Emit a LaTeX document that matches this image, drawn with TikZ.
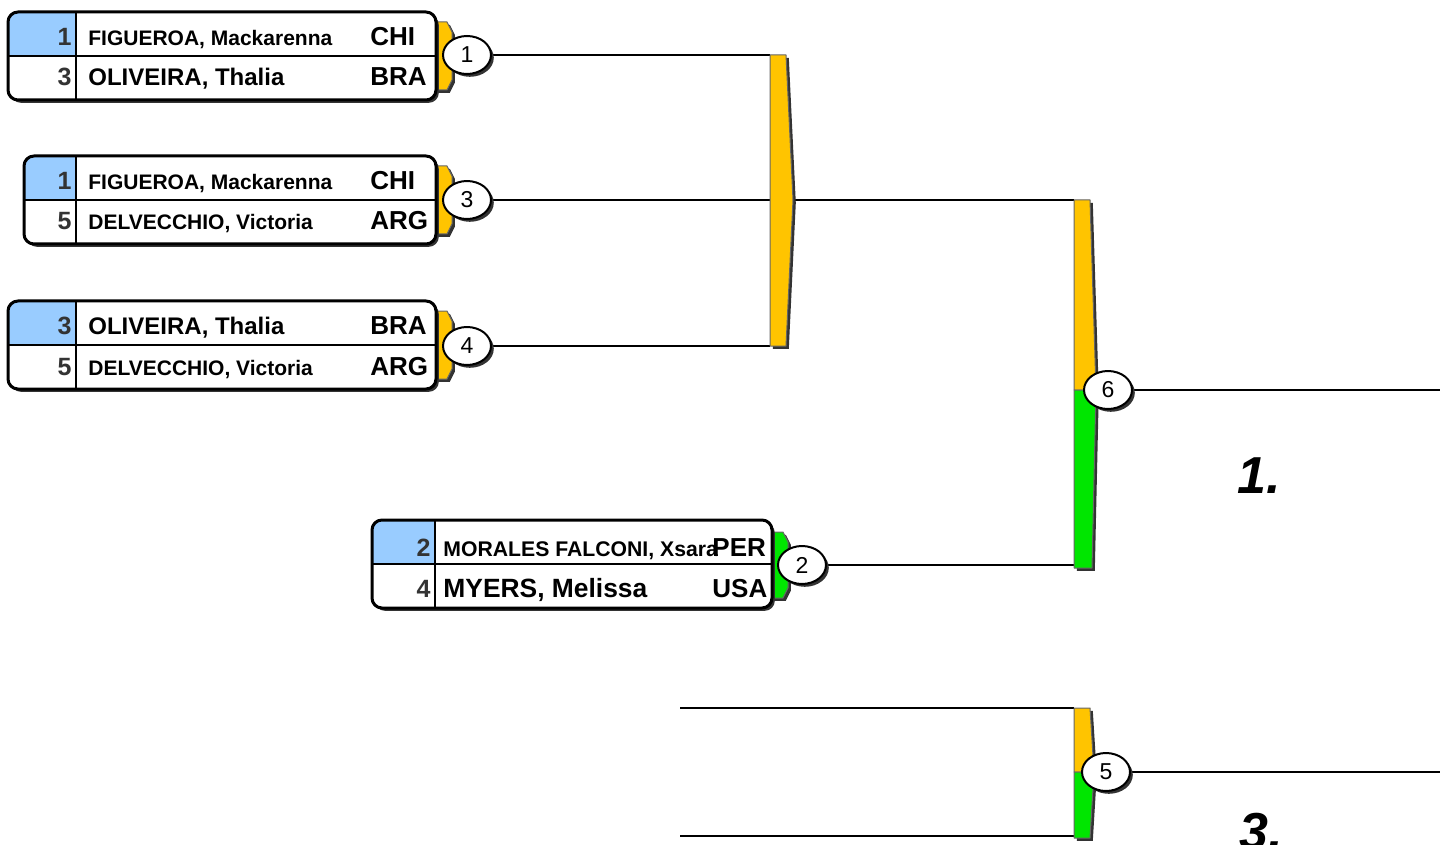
\documentclass[tikz,border=0pt]{standalone}
\usepackage{fontspec}
\setmainfont{Liberation Sans}
\usepackage{xcolor}
\usepackage{tikz}
\usetikzlibrary{calc,positioning,shapes.geometric,backgrounds}
\definecolor{seedblue}{RGB}{153,204,255}
\definecolor{baryel}{RGB}{255,196,0}
\definecolor{bargrn}{RGB}{0,230,0}
\newcommand{\fsz}[1]{\fontsize{#1}{#1}\selectfont}
\tikzset{
  shad/.style={preaction={fill=black!80, transform canvas={xshift=1.4pt, yshift=-1.4pt}}},
  entry/.style={shad, draw, line width=1.5pt, rounded corners=5pt, fill=white,
    minimum height=44pt, inner sep=0pt,
    path picture={
      \fill[seedblue, sharp corners] (path picture bounding box.north west) rectangle ([xshift=#1]path picture bounding box.west);
      \draw[line width=0.8pt] (path picture bounding box.west) -- (path picture bounding box.east);
      \draw[line width=0.8pt] ([xshift=#1]path picture bounding box.north west) -- ([xshift=#1]path picture bounding box.south west);
    }},
  seedt/.style={anchor=base east, inner sep=0pt, text=black!80, font=\bfseries\fsz{12.5}},
  namet/.style={anchor=base west, inner sep=0pt, font=\bfseries\fsz{#1}},
  namet/.default=10.5,
  ctyt/.style={anchor=base west, inner sep=0pt, font=\bfseries\fsz{13}},
  tabc/.style={shad, draw=black!60, line width=0.5pt},
  bar/.style={shad, draw=black!60, line width=0.5pt},
  mnum/.style={shad, ellipse, draw, line width=1pt, fill=white, minimum width=24pt,
    minimum height=19pt, inner sep=0pt, font=\fsz{11.5}},
  conn/.style={line width=1.2pt},
  place/.style={anchor=base west, inner sep=0pt, font=\bfseries\itshape\fsz{26}},
  every picture/.style={line cap=round, line join=round}
}

\begin{document}
\begin{tikzpicture}[x=0.5pt, y=-0.5pt]
  \useasboundingbox (0,0) rectangle (1440,845);
  \clip (0,0) rectangle (1440,845);

  \coordinate (a1) at (770,55);
  \coordinate (a3) at (770,200);
  \coordinate (a4) at (770,346);
  \coordinate (ax) at (793,200);
  \coordinate (f1) at (1074,200);
  \coordinate (f2) at (1074,565);
  \coordinate (fx) at (1096,390);
  \coordinate (e6) at (1440,390);
  \coordinate (t1) at (680,708);
  \coordinate (t2) at (680,836);
  \coordinate (g1) at (1074,708);
  \coordinate (g2) at (1074,836);
  \coordinate (gx) at (1094,772);
  \coordinate (e5) at (1440,772);

  \filldraw[bar, fill=baryel] (a1) -- (786,55) -- (ax) -- (786,346) -- (a4) -- cycle;
  \filldraw[bar, fill=baryel] (f1) -- (1090,200) -- (fx) -- (1074,390) -- cycle;
  \filldraw[bar, fill=bargrn] (1074,390) -- (fx) -- (1092,568) -- (1074,568) -- cycle;
  \filldraw[bar, fill=baryel] (g1) -- (1090,708) -- (gx) -- (1074,772) -- cycle;
  \filldraw[bar, fill=bargrn] (1074,772) -- (gx) -- (1090,838) -- (1074,838) -- cycle;

  \filldraw[tabc, fill=baryel] (436,22) -- (447,22) -- (452,32) -- (452,80) -- (447,90) -- (436,90) -- cycle;
  \filldraw[tabc, fill=baryel] (436,166) -- (447,166) -- (452,176) -- (452,224) -- (447,234) -- (436,234) -- cycle;
  \filldraw[tabc, fill=baryel] (436,311) -- (447,311) -- (452,321) -- (452,369) -- (447,379) -- (436,379) -- cycle;
  \filldraw[tabc, fill=bargrn] (772,532) -- (783,532) -- (788,542) -- (788,588) -- (783,598) -- (772,598) -- cycle;

  \node[entry=34pt, minimum width=214pt] (b1) at (222,56) {};
  \node[entry=26pt, minimum width=206pt] (b3) at (230,200) {};
  \node[entry=34pt, minimum width=214pt] (b4) at (222,345) {};
  \node[entry=31.5pt, minimum width=200pt] (b2) at (572,564) {};

  \node[seedt] (s1a) at (72,46) {1};
  \node[namet] (p1a) at (88,46) {FIGUEROA, Mackarenna};
  \node[ctyt] (c1a) at (370,46) {CHI};
  \node[seedt] (s1b) at (72,86) {3};
  \node[namet=12] (p1b) at (88,86) {OLIVEIRA, Thalia};
  \node[ctyt] (c1b) at (370,86) {BRA};

  \node[seedt] (s3a) at (72,190) {1};
  \node[namet] (p3a) at (88,190) {FIGUEROA, Mackarenna};
  \node[ctyt] (c3a) at (370,190) {CHI};
  \node[seedt] (s3b) at (72,230) {5};
  \node[namet] (p3b) at (88,230) {DELVECCHIO, Victoria};
  \node[ctyt] (c3b) at (370,230) {ARG};

  \node[seedt] (s4a) at (72,335) {3};
  \node[namet=12] (p4a) at (88,335) {OLIVEIRA, Thalia};
  \node[ctyt] (c4a) at (370,335) {BRA};
  \node[seedt] (s4b) at (72,375) {5};
  \node[namet] (p4b) at (88,375) {DELVECCHIO, Victoria};
  \node[ctyt] (c4b) at (370,375) {ARG};

  \node[seedt] (s2a) at (431,556) {2};
  \node[namet=10.6] (p2a) at (443,556) {MORALES FALCONI, Xsara};
  \node[ctyt] (c2a) at (712,556) {PER};
  \node[seedt] (s2b) at (431,597) {4};
  \node[namet=13.2] (p2b) at (443,597) {MYERS, Melissa};
  \node[ctyt] (c2b) at (712,597) {USA};

  \node[mnum] (m1) at (467,55) {1};
  \node[mnum] (m3) at (467,200) {3};
  \node[mnum] (m4) at (467,346) {4};
  \node[mnum] (m2) at (802,565) {2};
  \node[mnum] (m6) at (1108,390) {6};
  \node[mnum] (m5) at (1106,772) {5};

  \begin{scope}[on background layer]
    \draw[conn] (m1) -- (a1);
    \draw[conn] (m3) -- (a3);
    \draw[conn] (m4) -- (a4);
    \draw[conn] (ax) -- (f1);
    \draw[conn] (m2) -- (f2);
    \draw[conn] (m6) -- (e6);
    \draw[conn] (t1) -- (g1);
    \draw[conn] (t2) -- (g2);
    \draw[conn] (m5) -- (e5);
  \end{scope}

  \node[place] (r1) at (1237,493) {1.};
  \node[place] (r3) at (1239,849) {3.};
\end{tikzpicture}
\end{document}
